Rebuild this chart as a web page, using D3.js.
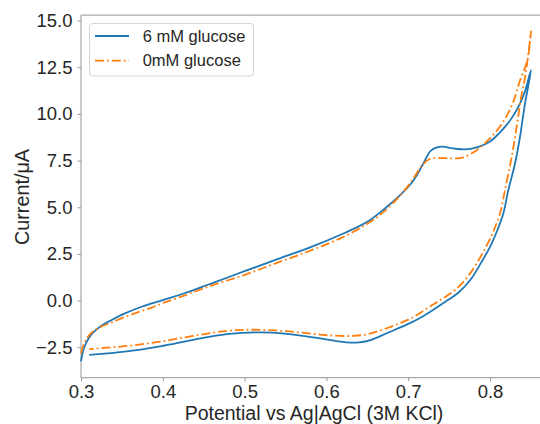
<!DOCTYPE html>
<html>
<head>
<meta charset="utf-8">
<style>
  body { margin: 0; background: #fff; }
  svg { display: block; font-family: "Liberation Sans", Arial, sans-serif; }
</style>
</head>
<body>
<svg id="chart" width="540" height="424"></svg>
<script src="https://d3js.org/d3.v7.min.js"></script>
<script>
// 6 mM glucose trace (potential V, current uA), in scan order
const glucoseV = [0.300, 0.304, 0.312, 0.325, 0.337, 0.353, 0.374, 0.400, 0.428, 0.455, 0.480, 0.500,
  0.540, 0.580, 0.620, 0.650, 0.670, 0.690, 0.705, 0.717, 0.728, 0.740, 0.755, 0.770, 0.785, 0.800,
  0.8203, 0.829, 0.8367, 0.843, 0.850,
  0.8465, 0.8428, 0.8397, 0.8367, 0.8306, 0.8224, 0.8163, 0.8086, 0.800, 0.789, 0.7768, 0.7609,
  0.745, 0.7303, 0.7144, 0.700, 0.6737, 0.655, 0.640, 0.625, 0.5922, 0.5515, 0.5188, 0.4781,
  0.4373, 0.3966, 0.3559, 0.310];
const glucoseI = [-3.25, -2.50, -1.85, -1.35, -1.05, -0.70, -0.33, 0.03, 0.42, 0.85, 1.25, 1.58,
  2.22, 2.85, 3.58, 4.22, 4.88, 5.65, 6.35, 7.22, 8.05, 8.25, 8.15, 8.10, 8.22, 8.52,
  9.41, 9.95, 10.57, 11.25, 12.35,
  11.45, 10.57, 9.68, 8.78, 7.36, 5.93, 4.68, 3.73, 2.88, 2.02, 1.16, 0.41,
  -0.07, -0.50, -0.93, -1.25, -1.75, -2.10, -2.24, -2.24, -2.02, -1.78, -1.70, -1.80,
  -2.10, -2.45, -2.72, -2.91];

// 0 mM glucose trace
const blankV = [0.300, 0.304, 0.312, 0.325, 0.337, 0.353, 0.370, 0.385, 0.400, 0.430, 0.460, 0.500,
  0.540, 0.580, 0.620, 0.650, 0.670, 0.690, 0.705, 0.717, 0.727, 0.745, 0.765, 0.785, 0.800,
  0.815, 0.828, 0.8367, 0.8458, 0.850,
  0.8477, 0.8452, 0.8422, 0.8388, 0.8326, 0.8265, 0.8183, 0.8122, 0.8043, 0.7957, 0.7847, 0.7725,
  0.7572, 0.7413, 0.7267, 0.7095, 0.700, 0.6737, 0.650, 0.633, 0.610, 0.5922, 0.5515, 0.5106,
  0.4781, 0.4373, 0.3966, 0.3559, 0.310];
const blankI = [-2.82, -2.28, -1.75, -1.39, -1.18, -0.89, -0.62, -0.40, -0.13, 0.33, 0.82, 1.38,
  2.03, 2.67, 3.40, 4.12, 4.75, 5.62, 6.45, 7.25, 7.60, 7.63, 7.65, 8.10, 8.70,
  9.50, 10.60, 11.80, 12.90, 14.42,
  13.54, 12.68, 11.82, 11.10, 9.32, 7.71, 5.93, 4.68, 3.73, 2.93, 2.07, 1.27,
  0.57, 0.09, -0.31, -0.80, -1.02, -1.48, -1.80, -1.89, -1.88, -1.82, -1.64, -1.56,
  -1.62, -1.89, -2.20, -2.43, -2.60];

const xTicks = [0.3, 0.4, 0.5, 0.6, 0.7, 0.8];
const yTicks = [-2.5, 0.0, 2.5, 5.0, 7.5, 10.0, 12.5, 15.0];
const seriesNames = ["6 mM glucose", "0mM glucose"];

const svg = d3.select("#chart");
const plotL = 81, plotR = 547.3, plotT = 15, plotB = 377.7;

const x = d3.scaleLinear().domain([0.3, 0.87]).range([plotL, plotR]);
const y = d3.scaleLinear().domain([-4.13, 15.3]).range([plotB, plotT]);

const spine = "#aaaaaa";
const textCol = "#262626";

// spines (right spine falls outside the picture)
svg.append("line").attr("x1", plotL).attr("x2", plotL).attr("y1", plotT).attr("y2", plotB)
  .attr("stroke", spine).attr("stroke-width", 1.25);
svg.append("line").attr("x1", plotL).attr("x2", 540).attr("y1", plotT).attr("y2", plotT)
  .attr("stroke", spine).attr("stroke-width", 1.25);
svg.append("line").attr("x1", plotL).attr("x2", 540).attr("y1", plotB).attr("y2", plotB)
  .attr("stroke", spine).attr("stroke-width", 1.25);

// x axis
const xAxis = d3.axisBottom(x).tickValues(xTicks).tickFormat(d3.format(".1f"))
  .tickSizeInner(3.5).tickSizeOuter(0).tickPadding(4);
const gx = svg.append("g").attr("transform", `translate(0,${plotB})`).call(xAxis);
gx.select(".domain").remove();
gx.selectAll(".tick line").attr("stroke", "#999").attr("stroke-width", 1);
gx.selectAll(".tick text").attr("fill", textCol).attr("font-size", 18.5)
  .attr("font-family", "'Liberation Sans', Arial, sans-serif");

// y axis
const yAxis = d3.axisLeft(y).tickValues(yTicks).tickFormat(d3.format(".1f"))
  .tickSizeInner(3.5).tickSizeOuter(0).tickPadding(5);
const gy = svg.append("g").attr("transform", `translate(${plotL},0)`).call(yAxis);
gy.select(".domain").remove();
gy.selectAll(".tick line").attr("stroke", "#999").attr("stroke-width", 1);
gy.selectAll(".tick text").attr("fill", textCol).attr("font-size", 18.5)
  .attr("font-family", "'Liberation Sans', Arial, sans-serif");

// axis titles
svg.append("text").attr("x", 314).attr("y", 420).attr("text-anchor", "middle")
  .attr("fill", textCol).attr("font-size", 19.5).text("Potential vs Ag|AgCl (3M KCl)");
svg.append("text").attr("transform", "translate(28.5,197) rotate(-90)")
  .attr("text-anchor", "middle").attr("fill", textCol).attr("font-size", 19.8)
  .text("Current/μA");

// curves
const line = d3.line().x(d => x(d[0])).y(d => y(d[1])).curve(d3.curveCatmullRom.alpha(0.5));
const glucose = glucoseV.map((v, i) => [v, glucoseI[i]]);
const blank = blankV.map((v, i) => [v, blankI[i]]);

svg.append("path").datum(glucose).attr("d", line).attr("fill", "none")
  .attr("stroke", "#1f77b4").attr("stroke-width", 1.8);
svg.append("path").datum(blank).attr("d", line).attr("fill", "none")
  .attr("stroke", "#ff7f0e").attr("stroke-width", 1.8).attr("stroke-dasharray", "9,3,1.8,3");

// legend
const lg = svg.append("g");
lg.append("rect").attr("x", 89.5).attr("y", 23.5).attr("width", 164).attr("height", 52.5)
  .attr("rx", 3).attr("fill", "#fff").attr("fill-opacity", 0.8)
  .attr("stroke", "#d6d6d6").attr("stroke-width", 1);
const styles = [
  { color: "#1f77b4", dash: null },
  { color: "#ff7f0e", dash: "9,3,1.8,3" }
];
seriesNames.forEach((name, i) => {
  const yy = 36 + i * 24.7;
  lg.append("line").attr("x1", 95).attr("x2", 129).attr("y1", yy).attr("y2", yy)
    .attr("stroke", styles[i].color).attr("stroke-width", 1.8)
    .attr("stroke-dasharray", styles[i].dash);
  lg.append("text").attr("x", 142.7).attr("y", yy).attr("dy", "0.35em")
    .attr("fill", textCol).attr("font-size", 16.5).text(name);
});
</script>
</body>
</html>
